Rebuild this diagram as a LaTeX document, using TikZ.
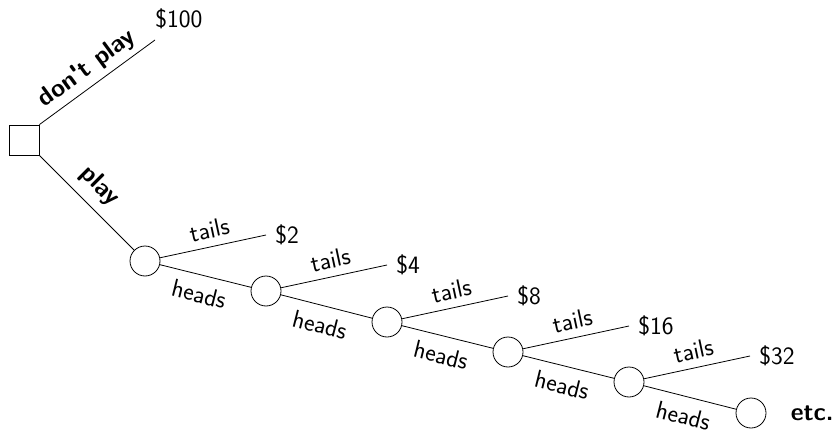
\documentclass[tikz,border=0pt]{standalone}
\usepackage{fontspec}
\usetikzlibrary{calc}
\begin{document}
\begin{tikzpicture}[x=1pt,y=-1pt,
  font=\sffamily\fontsize{25}{30}\selectfont,
  line width=0.8pt,
  decbox/.style={draw,rectangle,minimum size=30pt,inner sep=0pt},
  chance/.style={draw,circle,minimum size=30pt,inner sep=0pt},
  payoff/.style={anchor=base west,inner sep=2pt},
  lab/.style={sloped,inner sep=8pt}]
\useasboundingbox (0,0) rectangle (835,433);
\node[decbox] (d) at (24,140) {};
\coordinate (e0) at (155,40);
\node[payoff] (p0) at ($(e0)+(-2,-12)$) {\$100};
\draw (d.north east) -- node[lab,above,pos=0.5,inner sep=5pt] {\bfseries don\textquotesingle t play} (e0);
\foreach \i/\x/\y in {1/145/261,2/266/291,3/387/322,4/508/352,5/629/382,6/751/413}{
  \node[chance] (c\i) at (\x,\y) {};
}
\draw (d.south east) -- node[lab,above,pos=0.48,inner sep=9pt] {\bfseries play} (c1);
\foreach \i/\v in {1/2,2/4,3/8,4/16,5/32}{
  \coordinate (t\i) at ($(c\i)+(121,-26)$);
  \draw (c\i) -- node[lab,above,pos=0.5] {tails} (t\i);
  \node[payoff] (v\i) at ($(t\i)+(7,8)$) {\$\v};
}
\foreach \i/\j in {1/2,2/3,3/4,4/5,5/6}{
  \draw (c\i) -- node[lab,below,pos=0.48,inner sep=0pt,yshift=-10pt] {heads} (c\j);
}
\node[anchor=west,inner sep=2pt,font=\sffamily\bfseries\fontsize{25}{30}\selectfont] (etc) at ($(c6.east)+(22,0)$) {etc.};
\end{tikzpicture}
\end{document}
